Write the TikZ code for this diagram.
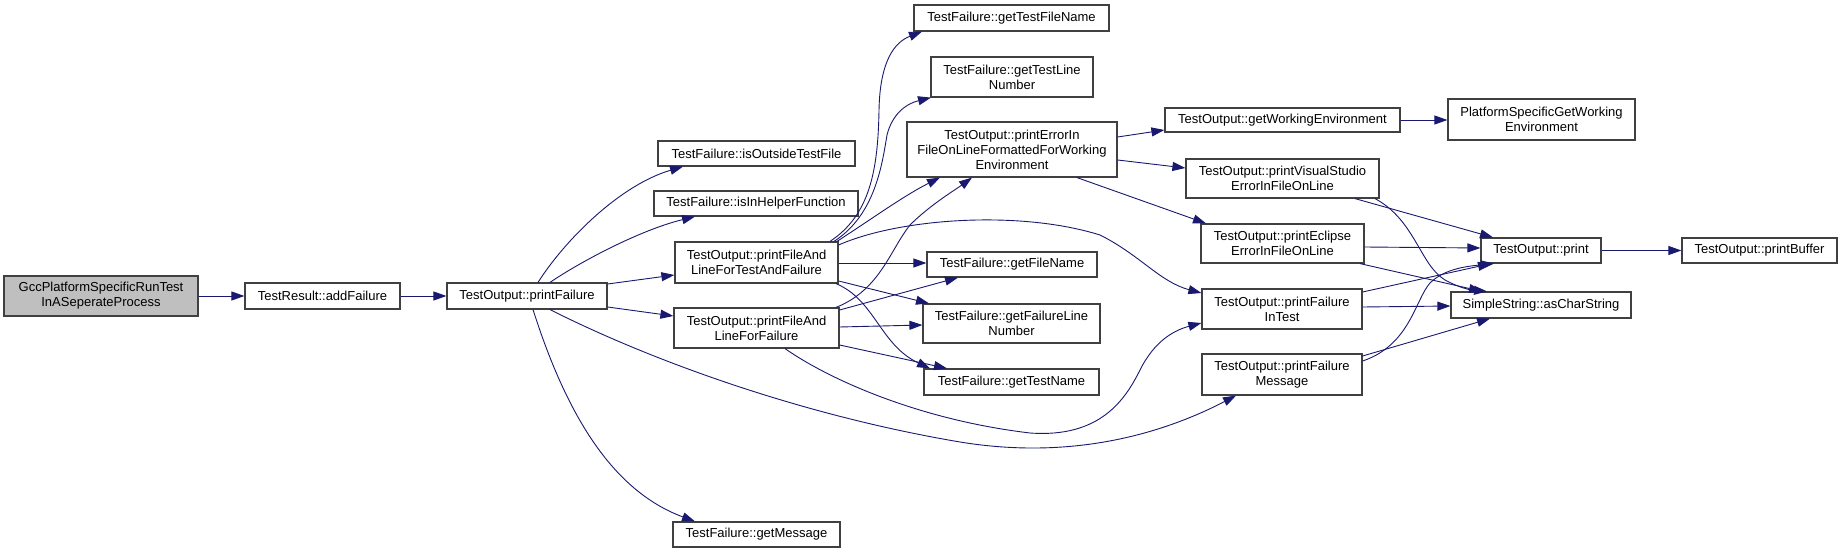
\documentclass[tikz,border=0pt]{standalone}
\usepackage{fontspec}
\setmainfont{Liberation Sans}
\usetikzlibrary{arrows.meta}
\definecolor{edgec}{HTML}{191970}
\definecolor{boxc}{HTML}{404040}
\definecolor{gccfill}{HTML}{BFBFBF}
\begin{document}
\begin{tikzpicture}[x=1pt,y=-1pt,
  fn/.style={draw=boxc, line width=1.2pt, fill=white, font=\fontsize{13}{15}\selectfont, align=center, inner sep=0pt},
  ed/.style={draw=edgec, line width=0.9pt, -{Triangle[length=13pt,width=9pt]}, fill=none}]
\useasboundingbox (0,0) rectangle (1843,553);
\fill[white] (0,0) rectangle (1843,553);
% nodes
\node[fn, fill=gccfill, minimum width=194pt, minimum height=40pt] (gcc) at (101,296) {GccPlatformSpecificRunTest\\InASeperateProcess};
\node[fn, minimum width=155pt, minimum height=26pt] (addf) at (322.5,296) {TestResult::addFailure};
\node[fn, minimum width=160pt, minimum height=26pt] (pf) at (527,296) {TestOutput::printFailure};
\node[fn, minimum width=195pt, minimum height=26pt] (gtfn) at (1011.5,18) {TestFailure::getTestFileName};
\node[fn, minimum width=162pt, minimum height=40pt] (gtln) at (1012,77) {TestFailure::getTestLine\\Number};
\node[fn, minimum width=210pt, minimum height=55pt] (pei) at (1012,149.5) {TestOutput::printErrorIn\\FileOnLineFormattedForWorking\\Environment};
\node[fn, minimum width=197pt, minimum height=25pt] (iotf) at (756.5,153.5) {TestFailure::isOutsideTestFile};
\node[fn, minimum width=204pt, minimum height=25pt] (ihf) at (756,203.5) {TestFailure::isInHelperFunction};
\node[fn, minimum width=163pt, minimum height=41pt] (pfaltf) at (756.5,262.5) {TestOutput::printFileAnd\\LineForTestAndFailure};
\node[fn, minimum width=170pt, minimum height=25pt] (gfn) at (1012,264.5) {TestFailure::getFileName};
\node[fn, minimum width=165pt, minimum height=40pt] (pfalf) at (756.5,328) {TestOutput::printFileAnd\\LineForFailure};
\node[fn, minimum width=177pt, minimum height=39pt] (gfln) at (1011.5,323.5) {TestFailure::getFailureLine\\Number};
\node[fn, minimum width=175pt, minimum height=26pt] (gtn) at (1011.5,382) {TestFailure::getTestName};
\node[fn, minimum width=167pt, minimum height=25pt] (gm) at (756.5,534.5) {TestFailure::getMessage};
\node[fn, minimum width=235pt, minimum height=24pt] (gwe) at (1282.5,120) {TestOutput::getWorkingEnvironment};
\node[fn, minimum width=187pt, minimum height=41pt] (psgwe) at (1541.5,119.5) {PlatformSpecificGetWorking\\Environment};
\node[fn, minimum width=193pt, minimum height=39pt] (pvs) at (1282.5,178.5) {TestOutput::printVisualStudio\\ErrorInFileOnLine};
\node[fn, minimum width=163pt, minimum height=39pt] (pe) at (1282.5,243.5) {TestOutput::printEclipse\\ErrorInFileOnLine};
\node[fn, minimum width=120pt, minimum height=25pt] (print) at (1541,250.5) {TestOutput::print};
\node[fn, minimum width=155pt, minimum height=25pt] (pbuf) at (1759.5,250.5) {TestOutput::printBuffer};
\node[fn, minimum width=160pt, minimum height=40pt] (pfit) at (1282,309) {TestOutput::printFailure\\InTest};
\node[fn, minimum width=160pt, minimum height=41pt] (pfm) at (1282,374.5) {TestOutput::printFailure\\Message};
\node[fn, minimum width=180pt, minimum height=26pt] (acs) at (1541,305) {SimpleString::asCharString};
% edges
\draw[ed] (gcc.east) -- (addf.west);
\draw[ed] (addf.east) -- (pf.west);
\draw[ed] (538,0 |- pf.north) .. controls (565,240) and (620,185) .. (683,0 |- iotf.south);
\draw[ed] (550,0 |- pf.north) .. controls (580,262) and (640,230) .. (695,0 |- ihf.south);
\draw[ed] (pf.east |- 0,284) -- (pfaltf.west |- 0,275);
\draw[ed] (pf.east |- 0,307) -- (pfalf.west |- 0,316);
\draw[ed] (550,0 |- pf.south) .. controls (650,360) and (800,415) .. (960,442)
   .. controls (1070,460) and (1160,435) .. (1236,0 |- pfm.south);
\draw[ed] (533,0 |- pf.south) .. controls (565,410) and (610,490) .. (695,0 |- gm.north);
% from printFileAndLineForTestAndFailure
\draw[ed] (830,0 |- pfaltf.north) .. controls (870,215) and (878,170) .. (879,110)
   .. controls (880,60) and (895,42) .. (922,0 |- gtfn.south);
\draw[ed] (834,0 |- pfaltf.north) .. controls (875,215) and (882,165) .. (887,135)
   .. controls (892,115) and (905,104) .. (931,0 |- gtln.south);
\draw[ed] (837,0 |- pfaltf.north) .. controls (870,220) and (905,195) .. (940,0 |- pei.south);
\draw[ed] (pfaltf.east |- 0,245) .. controls (900,218) and (1020,210) .. (1100,235)
   .. controls (1140,255) and (1160,282) .. (pfit.west |- 0,293);
\draw[ed] (pfaltf.east |- 0,263) -- (gfn.west |- 0,263);
\draw[ed] (pfaltf.east |- 0,281) -- (929,0 |- gfln.north);
\draw[ed] (836,0 |- pfaltf.south) .. controls (875,300) and (880,345) .. (930,0 |- gtn.north);
% from printFileAndLineForFailure
\draw[ed] (836,0 |- pfalf.north) .. controls (880,290) and (890,250) .. (910,225)
   .. controls (930,205) and (955,190) .. (972,0 |- pei.south);
\draw[ed] (pfalf.east |- 0,310) -- (958,0 |- gfn.south);
\draw[ed] (pfalf.east |- 0,327) -- (gfln.west |- 0,325);
\draw[ed] (pfalf.east |- 0,345) -- (947,0 |- gtn.north);
\draw[ed] (785,0 |- pfalf.south) .. controls (830,380) and (920,420) .. (1030,433)
   .. controls (1100,438) and (1125,400) .. (1140,370)
   .. controls (1155,340) and (1175,330) .. (pfit.west |- 0,323);
% from printErrorIn...
\draw[ed] (pei.east |- 0,137) -- (gwe.west |- 0,130);
\draw[ed] (pei.east |- 0,160) -- (pvs.west |- 0,168);
\draw[ed] (1077,0 |- pei.south) -- (1206,0 |- pe.north);
\draw[ed] (gwe.east) -- (psgwe.west |- gwe.east);
% to print / asCharString
\draw[ed] (1355,0 |- pvs.south) -- (1493,0 |- print.north);
\draw[ed] (1375,0 |- pvs.south) .. controls (1415,220) and (1420,265) .. (1445,280)
   .. controls (1460,288) and (1470,290) .. (1487,0 |- acs.north);
\draw[ed] (pe.east |- 0,247) -- (print.west |- 0,248);
\draw[ed] (1360,0 |- pe.south) -- (1482,0 |- acs.north);
\draw[ed] (pfit.east |- 0,292) -- (1491,0 |- print.south);
\draw[ed] (pfit.east |- 0,307) -- (acs.west |- 0,306);
\draw[ed] (pfm.east |- 0,361) .. controls (1410,345) and (1415,300) .. (1430,283)
   .. controls (1445,268) and (1470,266) .. (1494,0 |- print.south);
\draw[ed] (pfm.east |- 0,356) -- (1490,0 |- acs.south);
\draw[ed] (print.east) -- (pbuf.west);
\end{tikzpicture}
\end{document}
